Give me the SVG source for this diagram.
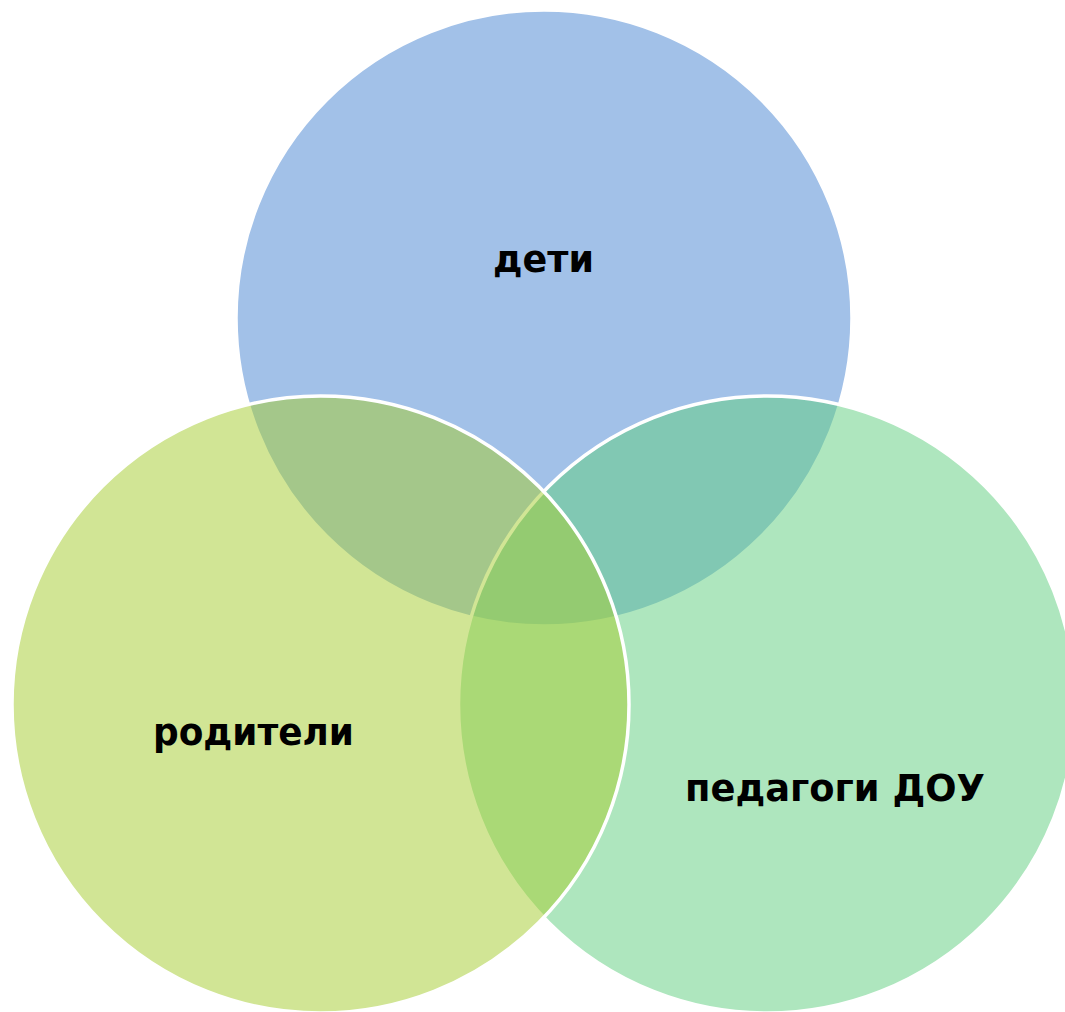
<svg xmlns="http://www.w3.org/2000/svg" width="1065" height="1012" viewBox="0 0 1065 1012">
  <style>
    .c { fill-opacity: 0.52; stroke: #ffffff; stroke-width: 3.5; }
    .t { font-family: "DejaVu Sans", "Liberation Sans", sans-serif; font-weight: bold; font-size: 37px; fill: #000000; }
  </style>
  <rect width="1065" height="1012" fill="#ffffff"/>
  <g id="node-deti">
    <circle class="c" cx="544" cy="318" r="308" fill="#4C88D3"/>
  </g>
  <g id="node-pedagogi">
    <circle class="c" cx="767" cy="704.5" r="308.5" fill="#63CF82"/>
  </g>
  <g id="node-roditeli">
    <circle class="c" cx="320.5" cy="704.5" r="308.5" fill="#A7CD33"/>
  </g>
  <g id="labels">
    <text class="t" x="493" y="272" textLength="101" lengthAdjust="spacingAndGlyphs">дети</text>
    <text class="t" x="153" y="745" textLength="201" lengthAdjust="spacingAndGlyphs">родители</text>
    <text class="t" x="685" y="801" textLength="300" lengthAdjust="spacingAndGlyphs">педагоги ДОУ</text>
  </g>
  <g id="connectors"/>
</svg>
